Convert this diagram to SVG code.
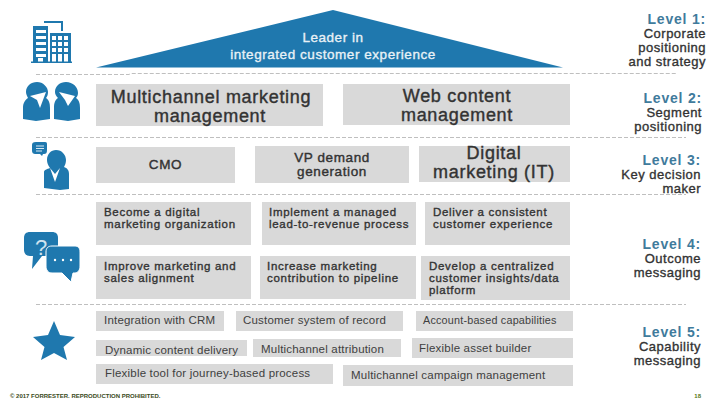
<svg xmlns="http://www.w3.org/2000/svg" width="720" height="405" viewBox="0 0 720 405">
<style>
text{font-family:"Liberation Sans",Arial,sans-serif;fill:#333333}
.b{fill:#d9d9d9}
.d{stroke:#bfbfbf;stroke-width:1;stroke-dasharray:4 2;fill:none}
.big{font-size:18px;letter-spacing:.7px;stroke:#333333;stroke-width:.4px;text-anchor:middle}
.t{font-size:13.500px;letter-spacing:.6px;stroke:#333333;stroke-width:.4px;text-anchor:middle}
.l{font-size:11.500px;letter-spacing:.7px;stroke:#333333;stroke-width:.35px}
.n{font-size:11.500px;letter-spacing:.2px;fill:#404040}
.h{font-size:14px;font-weight:bold;fill:#3f7b9c;text-anchor:end;letter-spacing:.8px}
.s{font-size:13px;text-anchor:end;letter-spacing:.5px;stroke:#333333;stroke-width:.35px}
.r{font-size:13.500px;text-anchor:middle;letter-spacing:.55px;fill:#e8f1f6;stroke:#e8f1f6;stroke-width:.35px}
.i{fill:#1f78ae}
</style>
<g id="connectors">
<path class="d" d="M36 74.500H129L131 73.500H677"/>
<path class="d" d="M36 137.500H686"/>
<path class="d" d="M36 194.500H686"/>
<path class="d" d="M36 304.500H686"/>
</g>
<g id="icon-building" class="i">
<path d="M31 61.500H72V63H31Z"/>
<path d="M33 26H48V62H33ZM36 30V33H46V30ZM36 36V39H46V36ZM36 42V45H46V42ZM36 48V51H46V48ZM36 54V57H46V54ZM38 58V62H43V58Z" fill-rule="evenodd"/>
<path d="M50 33H71V62H50ZM52 36V40H56V36ZM58 36V40H62V36ZM64 36V40H68V36ZM52 42V46H56V42ZM58 42V46H62V42ZM64 42V46H68V42ZM52 48V52H56V48ZM58 48V52H62V48ZM64 48V52H68V48ZM52 54V62H56V54ZM58 54V62H62V54ZM64 54V62H68V54Z" fill-rule="evenodd"/>
<path d="M44 21H63V31H61V23H44Z"/>
</g>
<g id="icon-segment" class="i">
<path d="M37 82C43 82 48 87 48 92C48 95 47 97 46 98C49 100 50 103 50 108V119L36 121L23 119V108C23 103 25 100 28 98C27 96 26 94 26 92C26 86 31 82 37 82Z"/>
<path d="M66 82C73 82 78 87 78 93C78 95 77 97 76 98C79 100 80 103 80 108V119L68 121L54 119V108C54 103 55 100 58 98C56 96 55 94 55 92C55 86 60 82 66 82Z"/>
<path d="M30 96L46 92L40 108L37 100Z" fill="#fff"/>
<path d="M59 92L75 96L68 106L65 100Z" fill="#fff"/>
</g>
<g id="icon-decision-maker" class="i">
<path d="M36 142H45C47 142 47 143 47 145V150C47 153 46 154 44 154H43L42 156L40 154H36C33 154 32 153 32 150V145C32 143 33 142 36 142Z"/>
<path d="M36 146H44M36 148.500H44M36 151H42" stroke="#d9e8f2" stroke-width="1"/>
<path d="M56 150C62 150 66 155 66 160C66 163 65 165 64 167C67 168 69 170 69 174V189L60 190L44 188V172C44 170 47 169 50 168C48 165 47 163 47 160C47 154 51 150 56 150Z"/>
<path d="M50 168L55 174L60 168L55 182Z" fill="#fff"/>
</g>
<g id="icon-outcome" class="i">
<path d="M30 232H52C56 232 58 234 58 238V250C58 254 55 256 52 256H42L32 269L33 256H30C26 256 24 253 24 250V238C24 234 26 232 30 232Z"/>
<text x="41" y="255" font-size="22" style="fill:#cfe3ef" text-anchor="middle">?</text>
<path d="M52 246H75C78 246 80 248 80 252V266C80 270 78 273 75 273H73L71 282L62 273H52C48 273 46 270 46 266V252C46 248 48 246 52 246Z" stroke="#fff" stroke-width="1"/>
<circle cx="55" cy="260" r="1.200" fill="#fff"/><circle cx="63" cy="260" r="1.200" fill="#fff"/><circle cx="71" cy="260" r="1.200" fill="#fff"/>
</g>
<g id="icon-star" class="i">
<path d="M54 321L60 335L75 337L63.500 347L67 360L54 353L41 360L44.500 347L33 337L48 335Z"/>
</g>
<g id="level-1-roof">
<path class="i" d="M96 67.500L333 10L563 67.500Z"/>
<text class="r" x="333" y="42">Leader in</text>
<text class="r" x="333" y="59">integrated customer experience</text>
</g>
<g id="node-multichannel-marketing"><rect class="b" x="96" y="84" width="227" height="42"/>
<text class="big" x="211" y="103">Multichannel marketing</text>
<text class="big" x="210" y="122">management</text></g>
<g id="node-web-content"><rect class="b" x="343" y="84" width="227" height="41"/>
<text class="big" x="457" y="102">Web content</text>
<text class="big" x="457" y="121">management</text></g>
<g id="node-cmo"><rect class="b" x="96" y="147" width="139" height="36"/>
<text class="t" x="165.500" y="169">CMO</text></g>
<g id="node-vp"><rect class="b" x="255" y="146" width="154" height="37"/>
<text class="t" x="332" y="162">VP demand</text>
<text class="t" x="332" y="176">generation</text></g>
<g id="node-digital"><rect class="b" x="419" y="146" width="151" height="36"/>
<text class="big" x="494" y="159">Digital</text>
<text class="big" x="494" y="178">marketing (IT)</text></g>
<g id="node-become"><rect class="b" x="96" y="202" width="155" height="43"/>
<text class="l" x="104" y="216">Become a digital</text><text class="l" x="104" y="228">marketing organization</text></g>
<g id="node-implement"><rect class="b" x="262" y="202" width="154" height="43"/>
<text class="l" x="269" y="216">Implement a managed</text><text class="l" x="269" y="228">lead-to-revenue process</text></g>
<g id="node-deliver"><rect class="b" x="425" y="202" width="145" height="43"/>
<text class="l" x="433" y="216">Deliver a consistent</text><text class="l" x="433" y="228">customer experience</text></g>
<g id="node-improve"><rect class="b" x="96" y="256" width="155" height="43"/>
<text class="l" x="104" y="270">Improve marketing and</text><text class="l" x="104" y="282">sales alignment</text></g>
<g id="node-increase"><rect class="b" x="260" y="256" width="156" height="43"/>
<text class="l" x="267" y="270">Increase marketing</text><text class="l" x="267" y="282">contribution to pipeline</text></g>
<g id="node-develop"><rect class="b" x="421" y="256" width="149" height="44"/>
<text class="l" x="429" y="270">Develop a centralized</text><text class="l" x="429" y="282">customer insights/data</text><text class="l" x="429" y="294">platform</text></g>
<g id="node-integration"><rect class="b" x="96" y="311" width="128" height="20"/><text class="n" x="104" y="324">Integration with CRM</text></g>
<g id="node-customer-system"><rect class="b" x="236" y="311" width="167" height="20"/><text class="n" x="243" y="324">Customer system of record</text></g>
<g id="node-account"><rect class="b" x="416" y="311" width="157" height="20"/><text class="n" x="423" y="324" style="font-size:10.800px">Account-based capabilities</text></g>
<g id="node-dynamic"><rect class="b" x="96" y="340" width="151" height="16"/><text class="n" x="105" y="354">Dynamic content delivery</text></g>
<g id="node-attribution"><rect class="b" x="253" y="339" width="148" height="18"/><text class="n" x="261" y="353">Multichannel attribution</text></g>
<g id="node-flexible-asset"><rect class="b" x="412" y="338" width="161" height="20"/><text class="n" x="419" y="352">Flexible asset builder</text></g>
<g id="node-flexible-tool"><rect class="b" x="96" y="364" width="237" height="20"/><text class="n" x="105" y="377">Flexible tool for journey-based process</text></g>
<g id="node-campaign"><rect class="b" x="343" y="365" width="230" height="21"/><text class="n" x="351" y="379">Multichannel campaign management</text></g>
<g id="level-labels">
<text class="h" x="706" y="24">Level 1:</text>
<text class="s" x="706" y="38">Corporate</text><text class="s" x="706" y="52">positioning</text><text class="s" x="706" y="66">and strategy</text>
<text class="h" x="702" y="103">Level 2:</text>
<text class="s" x="702" y="117">Segment</text><text class="s" x="702" y="131">positioning</text>
<text class="h" x="701" y="165">Level 3:</text>
<text class="s" x="701" y="179">Key decision</text><text class="s" x="701" y="193">maker</text>
<text class="h" x="701" y="249">Level 4:</text>
<text class="s" x="701" y="263">Outcome</text><text class="s" x="701" y="277">messaging</text>
<text class="h" x="701" y="337">Level 5:</text>
<text class="s" x="701" y="351">Capability</text><text class="s" x="701" y="365">messaging</text>
</g>
<g id="footer">
<text x="10" y="398" font-size="6" font-weight="bold" style="fill:#3a4a20">© 2017 FORRESTER. REPRODUCTION PROHIBITED.</text>
<text x="701" y="398" font-size="6" font-weight="bold" text-anchor="end" style="fill:#5a7a20">18</text>
</g>
</svg>
